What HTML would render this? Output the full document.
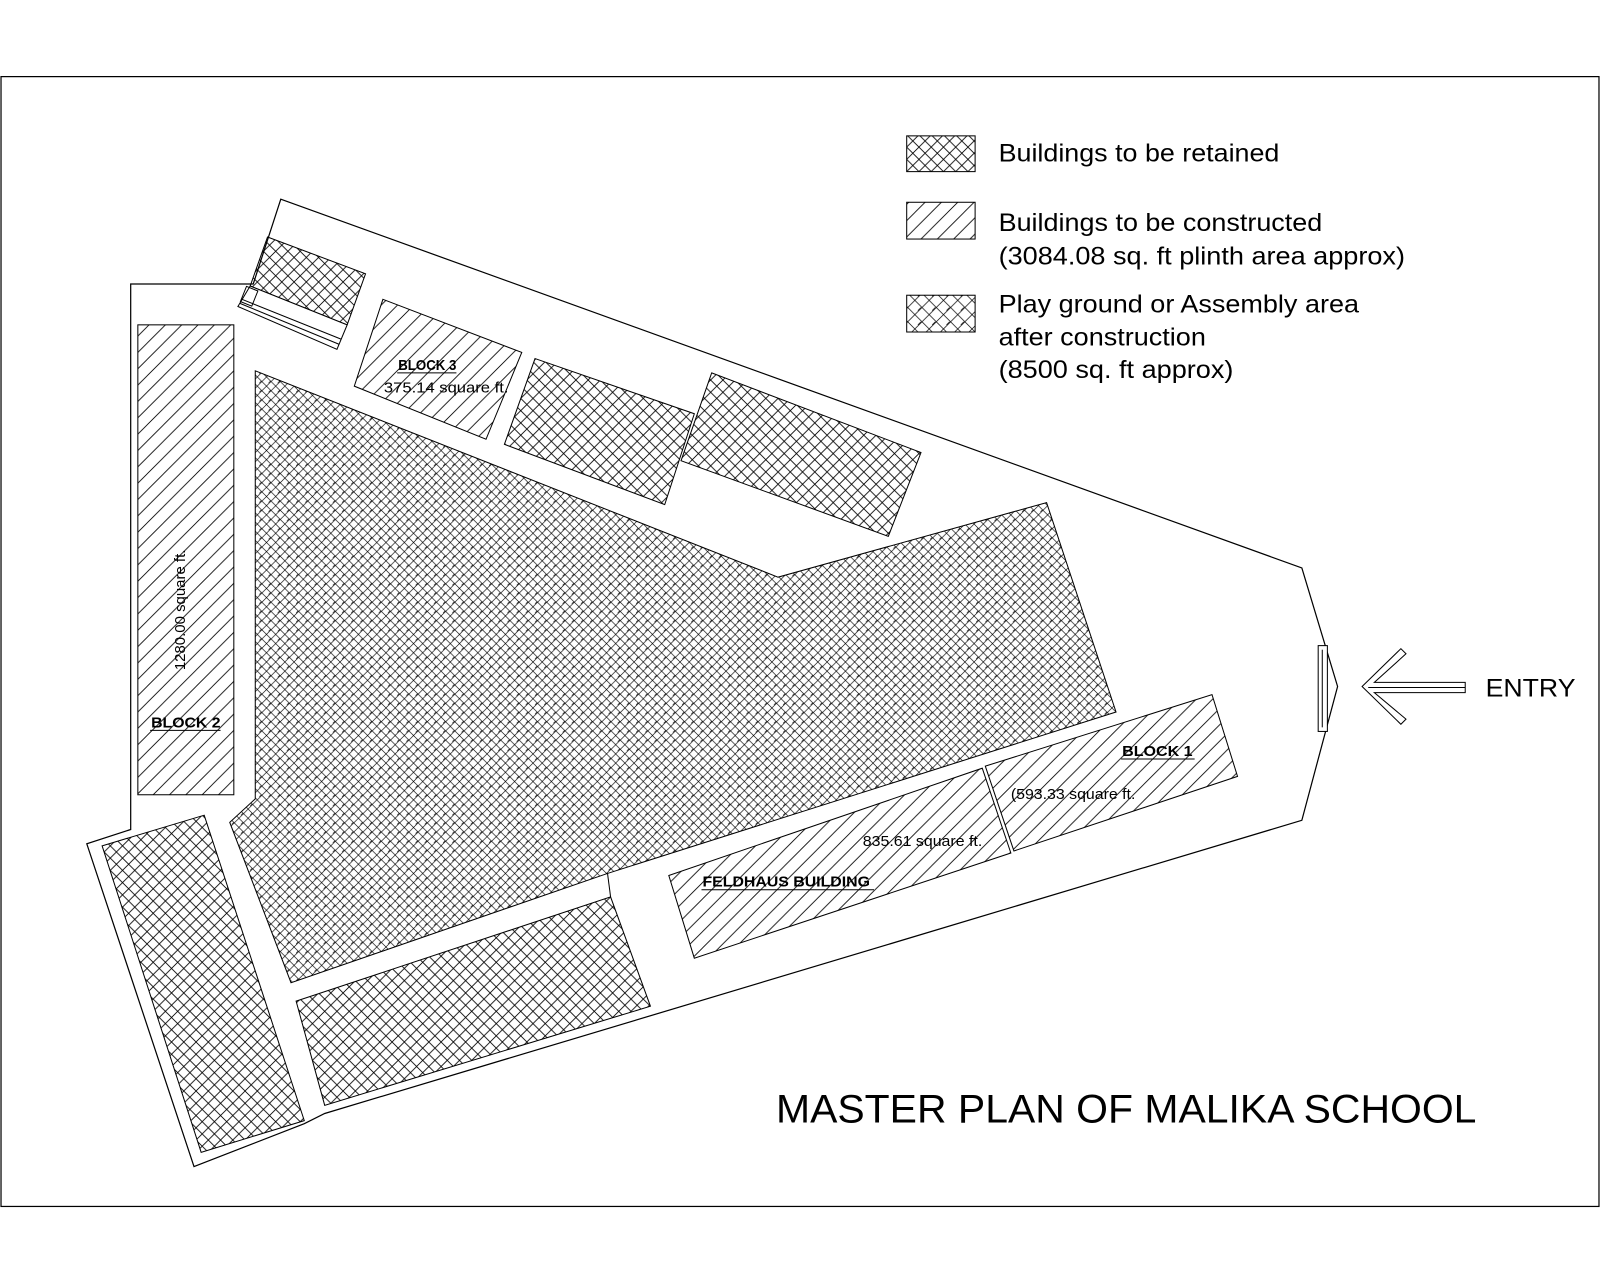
<!DOCTYPE html>
<html><head><meta charset="utf-8"><style>
html,body{margin:0;padding:0;background:#fff;}
svg{display:block;}
text{font-family:"Liberation Sans",Arial,sans-serif;fill:#000;}
</style></head><body>
<svg width="1600" height="1280" viewBox="0 0 1567 1253" preserveAspectRatio="none" xmlns="http://www.w3.org/2000/svg">
<defs>
<pattern id="cross" patternUnits="userSpaceOnUse" width="12" height="12">
<path d="M0,0 L12,12 M12,0 L0,12" stroke="#000" stroke-width="0.8"/>
</pattern>
<pattern id="fine" patternUnits="userSpaceOnUse" width="9" height="9">
<path d="M0,0 L9,9 M9,0 L0,9" stroke="#000" stroke-width="0.6"/>
<path d="M2,6 L4,4" stroke="#000" stroke-width="0.6"/>
</pattern>
<pattern id="legfine" patternUnits="userSpaceOnUse" width="14" height="14">
<path d="M0,0 L14,14 M14,0 L0,14" stroke="#000" stroke-width="0.7"/>
<path d="M3,10 L6,7" stroke="#000" stroke-width="0.7"/>
</pattern>
<pattern id="diag" patternUnits="userSpaceOnUse" width="16" height="16">
<path d="M-4,4 L4,-4 M0,16 L16,0 M12,20 L20,12" stroke="#000" stroke-width="0.8"/>
</pattern>
</defs>
<g fill="none" stroke="#000" stroke-width="1.2">
<rect x="1" y="75" width="1565" height="1106"/>
<polygon fill="#fff" points="275,195 1275,556 1310,672 1275,803 318,1090 298,1100 190,1142 85,826 128,812 128,278 248,278"/>
</g>
<g stroke="#000" stroke-width="1">
<polygon fill="url(#cross)" points="262,232 358,268 340,318 245,280"/>
<polygon fill="#fff" points="245,280 340,318 330,342 233,300"/>
<line x1="237" y1="293" x2="334" y2="332" />
<line x1="235" y1="297" x2="332" y2="337" />
<rect x="238" y="282" width="12" height="16" fill="none" transform="rotate(22 244 290)"/>
<polygon fill="url(#diag)" points="375,293 511,345 476,430 347,378"/>
<polygon fill="url(#cross)" points="524,351 680,405 651,494 494,435"/>
<polygon fill="url(#cross)" points="697,365 902,443 870,525 667,451"/>
<polygon fill="url(#fine)" points="250,363 762,565 1025,492 1093,697 595,855 285,962 225,805 250,782"/>
<polygon fill="url(#cross)" points="100,828 200,798 298,1097 197,1128"/>
<polygon fill="url(#cross)" points="290,980 598,878 637,985 318,1082"/>
<line x1="595" y1="855" x2="598" y2="878"/>
<rect x="135" y="318" width="94" height="460" fill="url(#diag)"/>
<polygon fill="url(#diag)" points="655,857 962,752 990,835 680,938"/>
<polygon fill="url(#diag)" points="965,750 1187,680 1212,760 993,833"/>
<rect x="1291" y="632" width="9" height="84" fill="#fff"/>
<line x1="1295" y1="636" x2="1295" y2="712"/>
<polygon fill="#fff" points="1334,672 1372,635 1377,640 1346,668 1435,668 1435,678 1346,678 1377,704 1372,709"/>
<line x1="1340" y1="673" x2="1435" y2="673"/>
<rect x="888" y="133" width="67" height="35" fill="url(#cross)"/>
<rect x="888" y="198" width="67" height="36" fill="url(#diag)"/>
<rect x="888" y="289" width="67" height="36" fill="url(#legfine)"/>
</g>
<g font-size="24">
<text x="978" y="158" textLength="275" lengthAdjust="spacingAndGlyphs">Buildings to be retained</text>
<text x="978" y="226" textLength="317" lengthAdjust="spacingAndGlyphs">Buildings to be constructed</text>
<text x="978" y="259" textLength="398" lengthAdjust="spacingAndGlyphs">(3084.08 sq. ft plinth area approx)</text>
<text x="978" y="306" textLength="353" lengthAdjust="spacingAndGlyphs">Play ground or Assembly area</text>
<text x="978" y="338" textLength="203" lengthAdjust="spacingAndGlyphs">after construction</text>
<text x="978" y="370" textLength="230" lengthAdjust="spacingAndGlyphs">(8500 sq. ft approx)</text>
<text x="1455" y="682" textLength="88" lengthAdjust="spacingAndGlyphs">ENTRY</text>
</g>
<text x="760" y="1099" font-size="39" textLength="686" lengthAdjust="spacingAndGlyphs">MASTER PLAN OF MALIKA SCHOOL</text>
<g font-size="14">
<text x="390" y="362" font-weight="bold" textLength="57" lengthAdjust="spacingAndGlyphs">BLOCK 3</text>
<line x1="389" y1="365" x2="447" y2="365" stroke="#000"/>
<text x="376" y="384" textLength="122" lengthAdjust="spacingAndGlyphs">375.14 square ft.</text>
<text x="148" y="712" font-weight="bold" textLength="68" lengthAdjust="spacingAndGlyphs">BLOCK 2</text>
<line x1="147" y1="715" x2="216" y2="715" stroke="#000"/>
<text transform="translate(181,656) rotate(-90)" textLength="118" lengthAdjust="spacingAndGlyphs">1280.00 square ft.</text>
<text x="1099" y="740" font-weight="bold" textLength="69" lengthAdjust="spacingAndGlyphs">BLOCK 1</text>
<line x1="1098" y1="743" x2="1170" y2="743" stroke="#000"/>
<text x="990" y="782" textLength="122" lengthAdjust="spacingAndGlyphs">(593.33 square ft.</text>
<text x="845" y="828" textLength="117" lengthAdjust="spacingAndGlyphs">835.61 square ft.</text>
<text x="688" y="868" font-weight="bold" textLength="164" lengthAdjust="spacingAndGlyphs">FELDHAUS BUILDING</text>
<line x1="687" y1="871" x2="856" y2="871" stroke="#000"/>
</g>
</svg>
</body></html>
